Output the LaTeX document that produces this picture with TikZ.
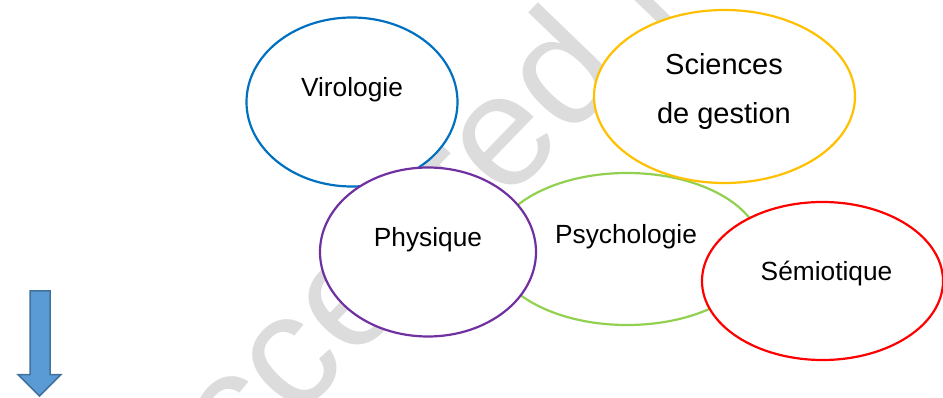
\documentclass[tikz,border=0pt]{standalone}
\usepackage{fontspec}
\setmainfont{Liberation Sans}
\usetikzlibrary{shapes.geometric}
\definecolor{cblue}{HTML}{0070C0}
\definecolor{cyellow}{HTML}{FFC000}
\definecolor{cgreen}{HTML}{92D050}
\definecolor{cpurple}{HTML}{7030A0}
\definecolor{cred}{HTML}{FF0000}
\definecolor{arrfill}{HTML}{5B9BD5}
\definecolor{arrdraw}{HTML}{41719C}
\definecolor{wmgray}{HTML}{DCDCDC}
\tikzset{
  bubble/.style={draw, fill=white, ellipse, line width=2.2pt, inner sep=0pt, outer sep=0pt},
  label26/.style={anchor=base, inner sep=0pt, font=\fontsize{26.3}{30}\selectfont},
  label29/.style={anchor=base, inner sep=0pt, font=\fontsize{29}{34}\selectfont},
}
\begin{document}
\begin{tikzpicture}[x=1pt, y=-1pt]
\useasboundingbox (0,0) rectangle (943,398);
\begin{scope}
\clip (0,0) rectangle (943,398);
\node[rotate=46, anchor=base west, inner sep=0pt, text=wmgray,
      font=\fontsize{160}{160}\selectfont] (wm) at (166,555.6) {Accepted Manuscript};
\end{scope}
% Virologie
\node[bubble, draw=cblue, minimum width=211pt, minimum height=169pt] (vir) at (352,102) {};
\node[label26] (tvir) at (352,96.7) {Virologie};
% Psychologie
\node[bubble, draw=cgreen, minimum width=268pt, minimum height=152pt] (psy) at (627,249) {};
\node[label26] (tpsy) at (626,243.3) {Psychologie};
% Physique
\node[bubble, draw=cpurple, minimum width=216pt, minimum height=169pt] (phy) at (428,252) {};
\node[label26] (tphy) at (428,246.7) {Physique};
% Sciences de gestion
\node[bubble, draw=cyellow, minimum width=261pt, minimum height=173pt] (sci) at (724.5,96.5) {};
\node[label29] (tsci1) at (724,75) {Sciences};
\node[label29] (tsci2) at (724,124) {de gestion};
% Semiotique
\node[bubble, draw=cred, minimum width=241pt, minimum height=158pt] (sem) at (822.5,281) {};
\node[label26] (tsem) at (826.5,280) {Sémiotique};
% Arrow
\draw[fill=arrfill, draw=arrdraw, line width=1.5pt, line join=miter]
  (30,291) -- (50,291) -- (50,374.5) -- (61,374.5) -- (39.5,396) -- (18,374.5) -- (30,374.5) -- cycle;
\end{tikzpicture}
\end{document}
